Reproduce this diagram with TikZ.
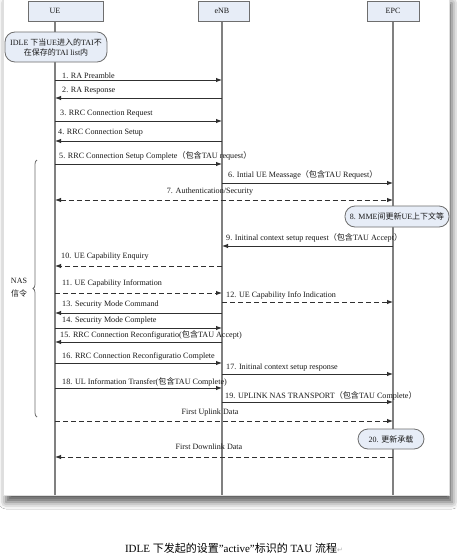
\documentclass[tikz,border=0pt]{standalone}
\usepackage{fontspec}
\setmainfont{Liberation Serif}
\newfontfamily\cjk{Noto Sans CJK SC}
\newfontfamily\dejavu{DejaVu Sans}
\usetikzlibrary{arrows.meta,shadows.blur,decorations.pathreplacing}
\newcommand\zh[1]{{\cjk #1}}
\definecolor{boxfill}{HTML}{E7EDF7}
\definecolor{boxline}{HTML}{6E6E6E}
\definecolor{lifec}{HTML}{808080}
\definecolor{msgc}{HTML}{303030}
\begin{document}
\begin{tikzpicture}[x=1pt,y=-1pt,
  headbox/.style={draw=boxline, fill=boxfill, line width=0.8pt, minimum height=20pt, inner sep=0pt},
  hdtxt/.style={font=\fontsize{8}{9}\selectfont, text=black!90, inner sep=0pt},
  notebox/.style={draw=boxline, fill=boxfill, rounded corners=10pt, line width=0.8pt, align=center, inner sep=0pt, font=\fontsize{8}{10}\selectfont, text=black!90},
  lifeline/.style={draw=lifec, line width=1.2pt},
  msg/.style={draw=msgc, line width=0.9pt, -{Latex[length=6pt,width=4.5pt]}},
  dmsg/.style={msg, dash pattern=on 5pt off 3pt},
  bmsg/.style={dmsg, {Latex[length=6pt,width=4.5pt]}-{Latex[length=6pt,width=4.5pt]}},
  lbl/.style={font=\fontsize{8.1}{9}\selectfont, text=black!90, inner sep=0pt, anchor=west},
  clbl/.style={font=\fontsize{8.1}{9}\selectfont, text=black!90, inner sep=0pt},
  bracestyle/.style={draw=boxline, line width=0.8pt, decorate, decoration={brace, amplitude=4pt}}
]
\useasboundingbox (0,0) rectangle (456,557);
\fill[white] (0,0) rectangle (456,557);
% panel with shadow
\path[fill=white, draw=gray!25, line width=0.5pt,
  blur shadow={shadow xshift=3pt, shadow yshift=-7pt, shadow blur radius=7pt, shadow opacity=65}]
  (3,-4) rectangle (449,495);

% lifeline end points
\coordinate (UEt) at (55,21);  \coordinate (UEb) at (55,495);
\coordinate (eNBt) at (222,21); \coordinate (eNBb) at (222,495);
\coordinate (EPCt) at (393,21); \coordinate (EPCb) at (393,495);
\draw[lifeline] (UEt) -- (UEb);
\draw[lifeline] (eNBt) -- (eNBb);
\draw[lifeline] (EPCt) -- (EPCb);

% headers
\node[headbox, minimum width=75pt] (UE) at (65.5,11) {};
\node[hdtxt] (UEl) at (55,11) {UE};
\node[headbox, minimum width=51pt] (eNB) at (223.5,11) {};
\node[hdtxt] (eNBl) at (222,11) {eNB};
\node[headbox, minimum width=52pt] (EPC) at (393,11) {};
\node[hdtxt] (EPCl) at (393,11) {EPC};

% IDLE note
\node[notebox, minimum width=102pt, minimum height=30pt] (idle) at (56,47)
  {IDLE \zh{下当}UE\zh{进入的}TAI\zh{不}\\\zh{在保存的}TAI list\zh{内}};

% message coordinates
\foreach \n/\y in {1/80, 2/98, 3/121, 4/141, 5/164, 6/183, 7/200, 9/246, 10/266, 11/293, 12/302, 13/313, 14/328, 15/342, 16/363, 17/374, 18/388, 19/402, 20/421, 21/457}{
  \coordinate (u\n) at (55,\y);
  \coordinate (e\n) at (222,\y);
  \coordinate (p\n) at (393,\y);
}

\draw[msg] (u1) -- (e1);
\node[lbl] (l1) at (62,76) {1. RA Preamble};
\draw[msg] (e2) -- (u2);
\node[lbl] (l2) at (62,91) {2. RA Response};
\draw[msg] (u3) -- (e3);
\node[lbl] (l3) at (60,114) {3. RRC Connection Request};
\draw[msg] (e4) -- (u4);
\node[lbl] (l4) at (58,133) {4. RRC Connection Setup};
\draw[msg] (u5) -- (e5);
\node[lbl] (l5) at (59,156) {5. RRC Connection Setup Complete\zh{（包含}TAU request\zh{）}};
\draw[msg] (e6) -- (p6);
\node[lbl] (l6) at (228,175) {6. Intial UE Meassage\zh{（包含}TAU Request\zh{）}};
\draw[bmsg] (u7) -- (p7);
\node[clbl] (l7) at (210,192) {7. Authentication/Security};

\node[notebox, minimum width=104pt, minimum height=21pt] (n8) at (397,216.5)
  {8. MME\zh{间更新}UE\zh{上下文等}};

\draw[msg] (p9) -- (e9);
\node[lbl] (l9) at (226,238) {9. Initinal context setup request\zh{（包含}TAU Accept\zh{）}};
\draw[dmsg] (e10) -- (u10);
\node[lbl] (l10) at (61,257) {10. UE Capability Enquiry};
\draw[dmsg] (u11) -- (e11);
\node[lbl] (l11) at (62,284) {11. UE Capability Information};
\draw[dmsg] (e12) -- (p12);
\node[lbl] (l12) at (226,296) {12. UE Capability Info Indication};
\draw[msg] (e13) -- (u13);
\node[lbl] (l13) at (62,305) {13. Security Mode Command};
\draw[msg] (u14) -- (e14);
\node[lbl] (l14) at (62,321) {14. Security Mode Complete};
\draw[msg] (e15) -- (u15);
\node[lbl] (l15) at (60,335) {15. RRC Connection Reconfiguratio(\zh{包含}TAU Accept)};
\draw[msg] (u16) -- (e16);
\node[lbl] (l16) at (62,357) {16. RRC Connection Reconfiguratio Complete};
\draw[msg] (e17) -- (p17);
\node[lbl] (l17) at (226,368) {17. Initinal context setup response};
\draw[msg] (u18) -- (e18);
\node[lbl] (l18) at (62,382) {18. UL Information Transfer(\zh{包含}TAU Complete)};
\draw[msg] (e19) -- (p19);
\node[lbl] (l19) at (225,396) {19. UPLINK NAS TRANSPORT\zh{（包含}TAU Complete\zh{）}};
\draw[dmsg] (u20) -- (p20);
\node[clbl] (l20) at (210,413) {First Uplink Data};

\node[notebox, minimum width=66pt, minimum height=20pt] (n20) at (391,439)
  {20. \zh{更新承载}};

\draw[dmsg] (p21) -- (u21);
\node[clbl] (l21) at (209,447) {First Downlink Data};

% NAS brace
\coordinate (nasb) at (37,417);
\coordinate (nast) at (37,160);
\draw[bracestyle] (nasb) -- (nast);
\node[clbl, align=center, font=\fontsize{8}{13}\selectfont] (nas) at (19,288) {NAS\\\zh{信令}};

% caption
\node[inner sep=0pt, font=\fontsize{11}{12}\selectfont] (cap) at (234,548)
  {IDLE \zh{下发起的设置}"active"\zh{标识的} TAU \zh{流程}{\dejavu\fontsize{7}{8}\selectfont\color{gray!60}↵}};
\end{tikzpicture}
\end{document}
